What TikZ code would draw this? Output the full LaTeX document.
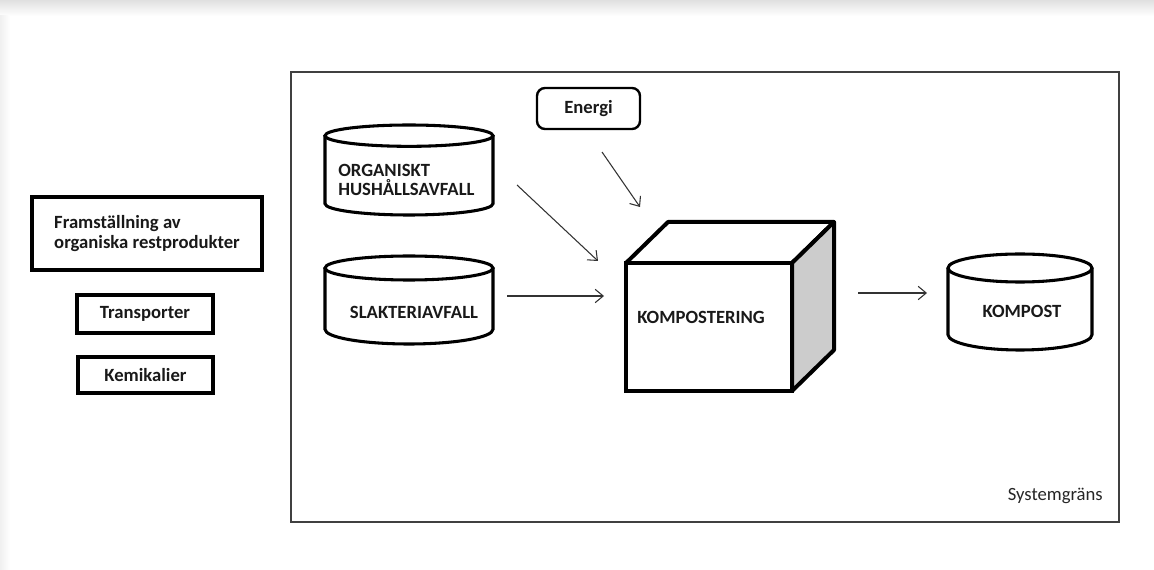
\documentclass[tikz,border=0pt]{standalone}
\usepackage{fontspec}
\setmainfont{Carlito}
\usetikzlibrary{arrows.meta}
\newcommand{\drum}[4]{%
  \draw[drumline] ([yshift=-#3]#1.north) ellipse[x radius=#2, y radius=#3];
  \draw[drumline] ([yshift=-#3]#1.north west) -- ([yshift=#4]#1.south west)
    arc[start angle=180, end angle=360, x radius=#2, y radius=#4] -- ([yshift=-#3]#1.north east);}

\begin{document}
\begin{tikzpicture}[x=0.75pt, y=-0.75pt, >={Straight Barb[length=6pt,width=10pt]},
  txt/.style={font=\fontsize{14}{14.5}\selectfont\bfseries, text=black!90, align=left, inner sep=0pt},
  thickbox/.style={draw, line width=3pt, inner sep=0pt, outer sep=0pt, txt},
  drumbody/.style={inner sep=0pt, outer sep=0pt},
  drumline/.style={line width=2.3pt},
  flow/.style={->, line width=0.8pt, black!80}]
\useasboundingbox (0,0) rectangle (1154,570);
\shade[top color=black!12, bottom color=white] (0,0) rectangle (1154,16);
\shade[left color=black!6, right color=white] (0,16) rectangle (10,570);
\node[draw=black!75, line width=1.3pt, minimum width=621pt, minimum height=337.5pt, inner sep=0pt] (sys) at (705,297) {};
\node[font=\fontsize{14}{14.5}\selectfont, text=black!85, anchor=east, inner sep=0pt] (systxt) at (1103,496) {Systemgräns};
\node[thickbox, minimum width=172.5pt, minimum height=54.75pt] (fram) at (147,233.5) {Framställning av\\organiska restprodukter};
\node[thickbox, minimum width=102pt, minimum height=28.5pt] (trans) at (145,314) {Transporter};
\node[thickbox, minimum width=101.25pt, minimum height=27pt] (kemi) at (145.5,375) {Kemikalier};
\node[draw, line width=1.8pt, rounded corners=6pt, minimum width=77.25pt, minimum height=30.75pt, txt] (energi) at (588.5,108.5) {Energi};
\node[drumbody, minimum width=126pt, minimum height=67.5pt] (org) at (409,170) {};
\drum{org}{63pt}{8pt}{8.5pt}
\node[txt, anchor=west] (orgtxt) at (338,180) {ORGANISKT\\HUSHÅLLSAVFALL};
\node[drumbody, minimum width=126pt, minimum height=66pt] (slakt) at (409,300) {};
\drum{slakt}{63pt}{9pt}{11pt}
\node[txt] (slakttxt) at (414,312) {SLAKTERIAVFALL};
\node[drumbody, minimum width=108pt, minimum height=72pt] (kompost) at (1020,302) {};
\drum{kompost}{54pt}{10.5pt}{11.5pt}
\node[txt] (komposttxt) at (1022,311) {KOMPOST};
\node[draw, line width=3pt, minimum width=124.5pt, minimum height=96pt, inner sep=0pt, outer sep=0pt] (front) at (709,327) {};
\draw[line width=3pt, line join=round] (front.north west) -- ([shift={(42,-41)}]front.north west) -- ([shift={(42,-41)}]front.north east) -- (front.north east);
\filldraw[fill=black!20, line width=3pt, line join=round] (front.north east) -- ([shift={(42,-41)}]front.north east) -- ([shift={(42,-41)}]front.south east) -- (front.south east) -- cycle;
\node[txt, anchor=west] (komptxt) at (637,317) {KOMPOSTERING};
\coordinate (a1) at (517,185); \coordinate (b1) at (598,261);
\coordinate (a2) at (602,152); \coordinate (b2) at (640,207);
\coordinate (a3) at (507,296); \coordinate (b3) at (604,296);
\coordinate (a4) at (858,293); \coordinate (b4) at (927,293);
\draw[flow] (a1) -- (b1);
\draw[flow] (a2) -- (b2);
\draw[flow] (a3) -- (b3);
\draw[flow] (a4) -- (b4);
\end{tikzpicture}
\end{document}
